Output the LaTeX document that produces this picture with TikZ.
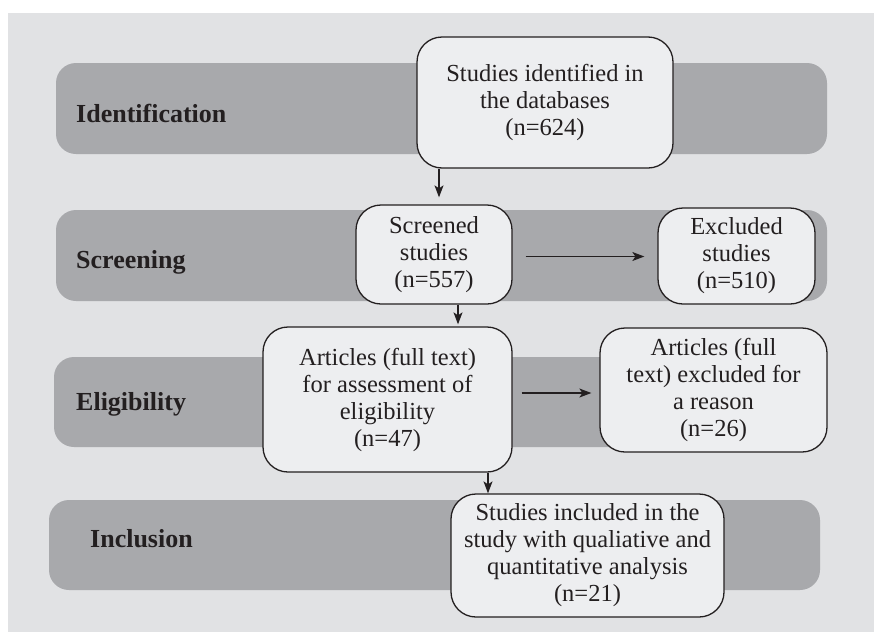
\documentclass[tikz,border=0pt]{standalone}
\usepackage{fontspec}
\setmainfont{Liberation Serif}
\usepackage{xcolor}
\usetikzlibrary{arrows.meta, positioning}
\definecolor{pagegray}{RGB}{225, 226, 228}
\definecolor{bandgray}{RGB}{168, 169, 172}
\definecolor{boxfill}{RGB}{237, 238, 240}
\definecolor{inkdark}{RGB}{35, 31, 32}

\begin{document}
\begin{tikzpicture}[
    x=1pt, y=-1pt,
    font=\fontsize{24.5}{27}\selectfont,
    band/.style={fill=bandgray, rounded corners=20pt},
    phase/.style={anchor=base west, font=\fontsize{26}{27}\selectfont\bfseries, text=inkdark, inner sep=0pt},
    stagebox/.style={draw=inkdark, line width=1.3pt, fill=boxfill, rounded corners=25pt, align=center, text=inkdark, inner sep=2pt},
    arr/.style={draw=inkdark, line width=1.2pt, -{Stealth[length=12pt, width=9pt, inset=3pt]}}
]
    \useasboundingbox (0,0) rectangle (874,632);
    \fill[pagegray] (8,13) rectangle (874,632);

    % phase bands
    \fill[band] (56,63) rectangle (827,154);
    \fill[band] (56,210) rectangle (827,301);
    \fill[band] (54,357) rectangle (825,447);
    \fill[band] (49,500) rectangle (820,590);

    \node[phase] (lblident) at (76,122) {Identification};
    \node[phase] (lblscreen) at (76,268) {Screening};
    \node[phase] (lblelig) at (76,410) {Eligibility};
    \node[phase] (lblincl) at (90,547) {Inclusion};

    % boxes
    \node[stagebox, minimum width=256pt, minimum height=131pt] (ident) at (545,102.5) {Studies identified in\\the databases\\(n=624)};
    \node[stagebox, minimum width=156pt, minimum height=99pt] (screened) at (434,254.5) {Screened\\studies\\(n=557)};
    \node[stagebox, minimum width=157pt, minimum height=96pt] (excl) at (736.5,256) {Excluded\\studies\\(n=510)};
    \node[stagebox, minimum width=249pt, minimum height=145pt] (articles) at (387.5,399.5) {Articles (full text)\\for assessment of\\eligibility\\(n=47)};
    \node[stagebox, minimum width=227pt, minimum height=124pt] (exclart) at (713.5,390) {Articles (full\\text) excluded for\\a reason\\(n=26)};
    \node[stagebox, minimum width=273pt, minimum height=123pt] (incl) at (587.5,555.5) {Studies included in the\\study with qualiative and\\quantitative analysis\\(n=21)};

    % connectors
    \draw[arr, shorten >=7pt] ([xshift=-106pt]ident.south) -- ([xshift=-106pt]ident.south |- screened.north);
    \draw[arr, shorten >=2pt] ([xshift=24pt]screened.south) -- ([xshift=24pt]screened.south |- articles.north);
    \draw[arr] ([xshift=100.5pt]articles.south) -- ([xshift=100.5pt]articles.south |- incl.north);
    \draw[arr, shorten <=13pt, shorten >=13pt] ([yshift=-2pt]screened.east) -- ([yshift=-2pt]screened.east -| excl.west);
    \draw[arr, shorten <=9pt, shorten >=8pt] ([yshift=6.5pt]articles.east) -- ([yshift=6.5pt]articles.east -| exclart.west);
\end{tikzpicture}
\end{document}
